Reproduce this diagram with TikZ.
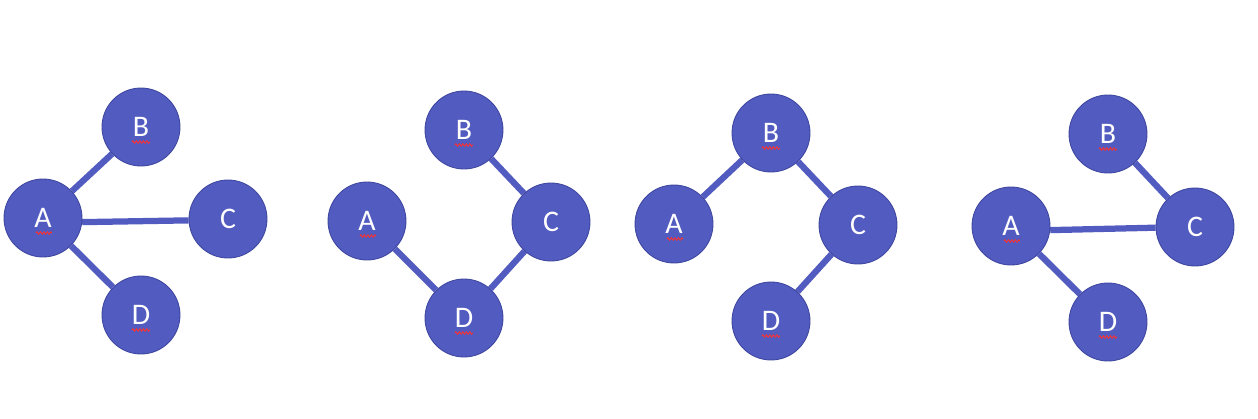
\documentclass[tikz,border=0pt]{standalone}
\usepackage{fontspec}
\setmainfont{Carlito}
\usetikzlibrary{backgrounds,decorations.pathmorphing}
\definecolor{vtx}{RGB}{82,91,191}
\definecolor{vtxrim}{RGB}{62,70,160}
\begin{document}
\begin{tikzpicture}[x=0.02cm,y=-0.02cm,
	vertex/.style={circle,fill=vtx,draw=vtxrim,line width=0.5pt,minimum size=1.56cm,inner sep=0pt,text=white,font=\fontsize{17}{20}\selectfont},
	link/.style={vtx,line width=0.125cm},
	squiggle/.style={red!75!pink,line width=0.5pt,decorate,decoration={zigzag,segment length=0.07cm,amplitude=0.025cm}}]
	\useasboundingbox (0,0) rectangle (1258,419);
	% first graph
	\node[vertex] (b1) at (141,127) {B};
	\node[vertex] (a1) at (43,218) {A};
	\node[vertex] (c1) at (228,219) {C};
	\node[vertex] (d1) at (141,315) {D};
	% second graph
	\node[vertex] (b2) at (464,130) {B};
	\node[vertex] (a2) at (367,221) {A};
	\node[vertex] (c2) at (551,222) {C};
	\node[vertex] (d2) at (464,318) {D};
	% third graph
	\node[vertex] (b3) at (771,133) {B};
	\node[vertex] (a3) at (674,224) {A};
	\node[vertex] (c3) at (858,225) {C};
	\node[vertex] (d3) at (771,321) {D};
	% fourth graph
	\node[vertex] (b4) at (1108,134) {B};
	\node[vertex] (a4) at (1011,226) {A};
	\node[vertex] (c4) at (1195,227) {C};
	\node[vertex] (d4) at (1108,322) {D};
	\begin{scope}[on background layer]
		\draw[link] (a1) -- (b1);
		\draw[link] (a1.-6) -- (c1.182);
		\draw[link] (a1) -- (d1);
		\draw[link] (b2) -- (c2);
		\draw[link] (a2) -- (d2);
		\draw[link] (d2) -- (c2);
		\draw[link] (a3) -- (b3);
		\draw[link] (b3) -- (c3);
		\draw[link] (c3) -- (d3);
		\draw[link] (b4) -- (c4);
		\draw[link] (a4.-6) -- (c4.181);
		\draw[link] (a4) -- (d4);
	\end{scope}
	% spell-check marks under the labels
	\foreach \v/\dx in {a1/-7,b1/-9,d1/-9,a2/-7,b2/-9,d2/-9,a3/-7,b3/-9,d3/-9,a4/-7,b4/-9,d4/-9}
		\draw[squiggle] ([shift={(\dx,15)}]\v.center) -- ([shift={(9,15)}]\v.center);
\end{tikzpicture}
\end{document}
